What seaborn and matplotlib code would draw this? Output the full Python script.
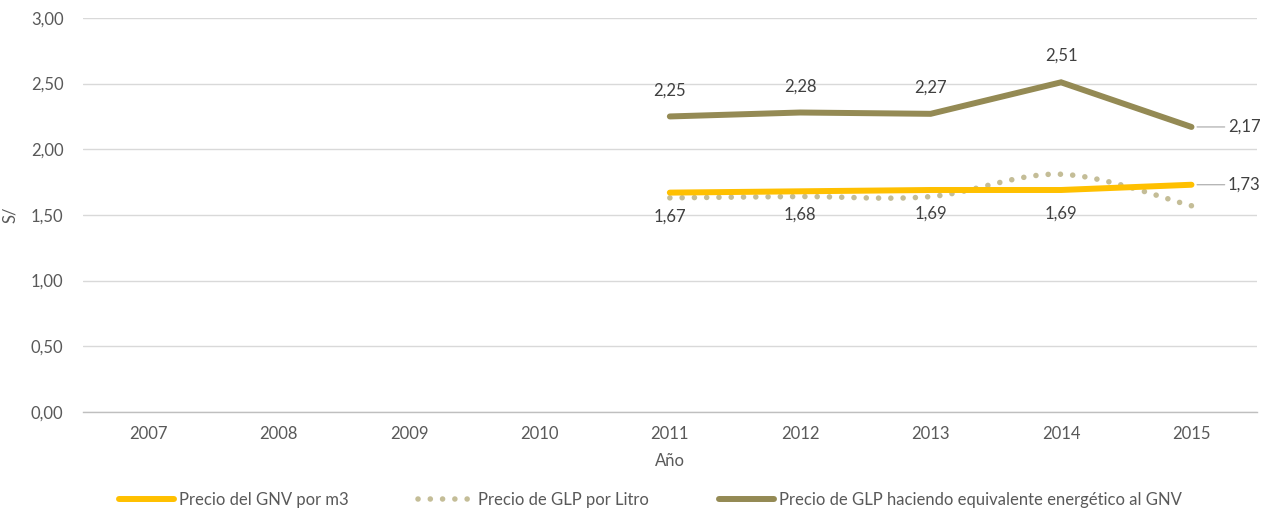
import numpy as np
import pandas as pd
import seaborn as sns
import matplotlib.pyplot as plt
from matplotlib.lines import Line2D

years = ["2007", "2008", "2009", "2010", "2011", "2012", "2013", "2014", "2015"]
precio_gnv = [None, None, None, None, 1.67, 1.68, 1.69, 1.69, 1.73]
precio_glp_litro = [None, None, None, None, 1.63, 1.64, 1.64, 1.81, 1.57]
precio_glp_equiv = [None, None, None, None, 2.25, 2.28, 2.27, 2.51, 2.17]

label_gnv = "Precio del GNV por m3"
label_glp = "Precio de GLP por Litro"
label_equiv = "Precio de GLP haciendo equivalente energético al GNV"

c_gnv = "#FFC000"
c_glp = "#C4BD97"
c_equiv = "#948A54"
txt = "#404040"
fs = 12

sns.set_theme(style="white")
plt.rcParams["font.family"] = ["Lato", "DejaVu Sans"]

df = pd.DataFrame({
    "pos": np.arange(len(years)),
    "gnv": pd.to_numeric(pd.Series(precio_gnv), errors="coerce"),
    "glp": pd.to_numeric(pd.Series(precio_glp_litro), errors="coerce"),
    "equiv": pd.to_numeric(pd.Series(precio_glp_equiv), errors="coerce"),
})


def smooth(xs, ys, n=30):
    # Catmull-Rom style smoothing, like Excel's "smoothed line"
    xs, ys = np.asarray(xs, float), np.asarray(ys, float)
    px = np.concatenate([[xs[0]], xs, [xs[-1]]])
    py = np.concatenate([[ys[0]], ys, [ys[-1]]])
    ox, oy = [], []
    for i in range(1, len(px) - 2):
        p0, p1, p2, p3 = (np.array([px[j], py[j]]) for j in (i - 1, i, i + 1, i + 2))
        c1 = p1 + (p2 - p0) / 6
        c2 = p2 - (p3 - p1) / 6
        t = np.linspace(0, 1, n)[:, None]
        b = (1 - t) ** 3 * p1 + 3 * (1 - t) ** 2 * t * c1 + 3 * (1 - t) * t ** 2 * c2 + t ** 3 * p2
        ox.extend(b[:, 0]); oy.extend(b[:, 1])
    return pd.DataFrame({"x": ox, "y": oy})


fig = plt.figure(figsize=(12.63, 5.13), dpi=100)
ax = fig.add_axes([0.0657, 0.197, 0.9293, 0.768])

valid = df.dropna()
sns.lineplot(data=valid, x="pos", y="equiv", ax=ax, color=c_equiv, lw=4.3,
             solid_capstyle="round", solid_joinstyle="miter", zorder=3)
sm = smooth(valid["pos"], valid["glp"])
sns.lineplot(data=sm, x="x", y="y", ax=ax, color=c_glp, lw=4.0, sort=False,
             dashes=False, zorder=3)
ax.lines[-1].set_dashes((0.01, 2.2))
ax.lines[-1].set_dash_capstyle("round")
sns.lineplot(data=valid, x="pos", y="gnv", ax=ax, color=c_gnv, lw=4.3,
             solid_capstyle="round", zorder=4)

# data labels
last = valid["pos"].max()
for _, r in valid.iterrows():
    for col, dy in (("equiv", 0.2), ("gnv", -0.18)):
        s = f"{r[col]:.2f}".replace(".", ",")
        if r["pos"] == last:
            ax.annotate(s, (r["pos"], r[col]), xytext=(r["pos"] + 0.28, r[col]),
                        ha="left", va="center", fontsize=fs, color=txt,
                        arrowprops=dict(arrowstyle="-", color="#A6A6A6", lw=0.8,
                                        shrinkA=0, shrinkB=4))
        else:
            ax.text(r["pos"], r[col] + dy, s, ha="center", va="center",
                    fontsize=fs, color=txt)

ax.set_xlim(-0.5, len(years) - 0.5)
ax.set_ylim(0, 3.0)
ax.set_xticks(range(len(years)))
ax.set_xticklabels(years)
yt = np.arange(0, 3.01, 0.5)
ax.set_yticks(yt)
ax.set_yticklabels([f"{v:.2f}".replace(".", ",") for v in yt])
ax.tick_params(axis="both", length=0, labelsize=fs, labelcolor="#595959")
ax.tick_params(axis="x", pad=10)
ax.tick_params(axis="y", pad=14)
ax.grid(axis="y", color="#D9D9D9", lw=1)
for sp in ["top", "right", "left"]:
    ax.spines[sp].set_visible(False)
ax.spines["bottom"].set_color("#BFBFBF")
ax.spines["bottom"].set_linewidth(1)
ax.set_xlabel("Año", fontsize=fs, color="#595959", labelpad=8)
ax.set_ylabel("S/", fontsize=fs, color="#595959")
ax.yaxis.set_label_coords(-0.055, 0.5)

handles = [
    Line2D([], [], color=c_gnv, lw=4.3, solid_capstyle="round"),
    Line2D([], [], color=c_glp, lw=4.0, dashes=(0.01, 2.2), dash_capstyle="round"),
    Line2D([], [], color=c_equiv, lw=4.3, solid_capstyle="round"),
]
fig.legend(handles, [label_gnv, label_glp, label_equiv], loc="center",
           bbox_to_anchor=(0.515, 0.025), ncol=3, frameon=False, fontsize=fs,
           handlelength=3.3, handletextpad=0.3, columnspacing=4.17,
           labelcolor="#595959")

fig.savefig("out.png", dpi=100)
